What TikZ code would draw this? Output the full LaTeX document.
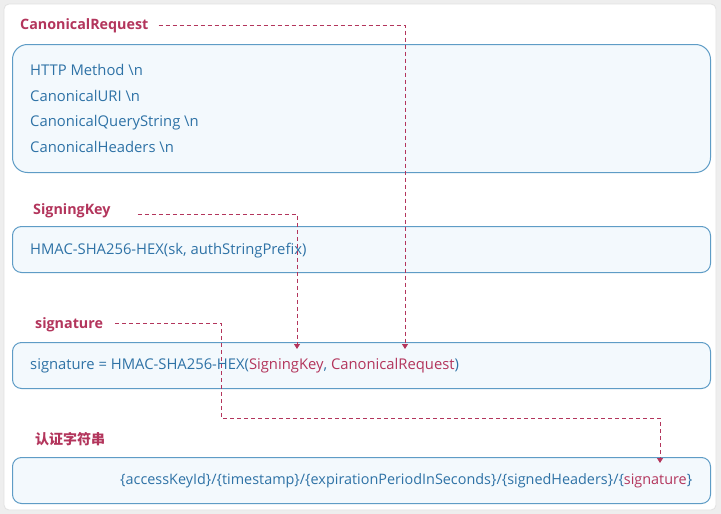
\documentclass[tikz,border=0pt]{standalone}
\usepackage{fontspec}
\setmainfont{Open Sans}
\newfontfamily\cjk{Noto Sans CJK SC}
\usetikzlibrary{arrows.meta,positioning,calc}
\definecolor{sgRed}{HTML}{B3355C}
\definecolor{sgBlue}{HTML}{2E72A6}
\definecolor{sgLine}{HTML}{5E9CC6}
\definecolor{sgFill}{HTML}{F3F9FD}
\definecolor{sgBack}{HTML}{EEEEEE}
\definecolor{sgCard}{HTML}{E2E2E2}

\begin{document}
\begin{tikzpicture}[x=1pt, y=-1pt,
  card/.style={fill=white, draw=sgCard, line width=0.8pt, rounded corners=5pt},
  box/.style={fill=sgFill, draw=sgLine, line width=1pt, anchor=north west,
              minimum width=698pt, inner sep=0pt},
  boxbig/.style={box, rounded corners=15pt, minimum height=128pt},
  boxrow/.style={box, rounded corners=9pt, minimum height=46pt},
  lab/.style={text=sgRed, font=\fontsize{14.3}{16}\selectfont\bfseries, anchor=base west, inner sep=0pt},
  body/.style={text=sgBlue, font=\fontsize{14.8}{16}\selectfont, anchor=base west, inner sep=0pt},
  link/.style={draw=sgRed, line width=0.9pt, dash pattern=on 4pt off 3pt,
               -{Triangle[width=6pt,length=5pt]}},
]
\useasboundingbox (0,0) rectangle (721,514);
\fill[sgBack] (0,0) rectangle (721,514);
\draw[card] (4,4) rectangle (716,510);

% boxes
\node[boxbig] (reqbox) at (12,44) {};
\node[boxrow] (keybox) at (12,226) {};
\node[boxrow] (sigbox) at (12,342) {};
\node[boxrow] (authbox) at (12,457) {};

% section titles
\node[lab] (reqlab) at (20,30) {CanonicalRequest};
\node[lab] (keylab) at (33,214) {SigningKey};
\node[lab] (siglab) at (35,328) {signature};
\node[lab, font=\fontsize{14}{16}\selectfont\cjk\bfseries] (authlab) at (35,444) {认证字符串};

% box contents
\node[body] (reqa) at (30,75) {HTTP Method \textbackslash n};
\node[body] (reqb) at (30,101) {CanonicalURI \textbackslash n};
\node[body] (reqc) at (30,126) {CanonicalQueryString \textbackslash n};
\node[body] (reqd) at (30,152) {CanonicalHeaders \textbackslash n};
\node[body] (keytxt) at (30,254) {HMAC-SHA256-HEX(sk, authStringPrefix)};
\node[body] (sigtxt) at (30,369)
  {signature = HMAC-SHA256-HEX(\textcolor{sgRed}{SigningKey}, \textcolor{sgRed}{CanonicalRequest})};
\node[body, font=\fontsize{14.4}{16}\selectfont] (authtxt) at (120,484)
  {\{accessKeyId\}/\{timestamp\}/\{expirationPeriodInSeconds\}/\{signedHeaders\}/\{\textcolor{sgRed}{signature}\}};

% where the dashed links turn and drop
\coordinate (reqdrop) at (405,349);
\coordinate (keydrop) at (297,349);
\coordinate (sigbend) at (221,418);
\coordinate (sigdrop) at (660,463);

\draw[link] ([xshift=10pt,yshift=5pt]reqlab.base east) -| (reqdrop);
\draw[link] ([xshift=27pt]keylab.base east) -| (keydrop);
\draw[link] ([xshift=12pt,yshift=5pt]siglab.base east) -| (sigbend) -| (sigdrop);

\end{tikzpicture}
\end{document}
